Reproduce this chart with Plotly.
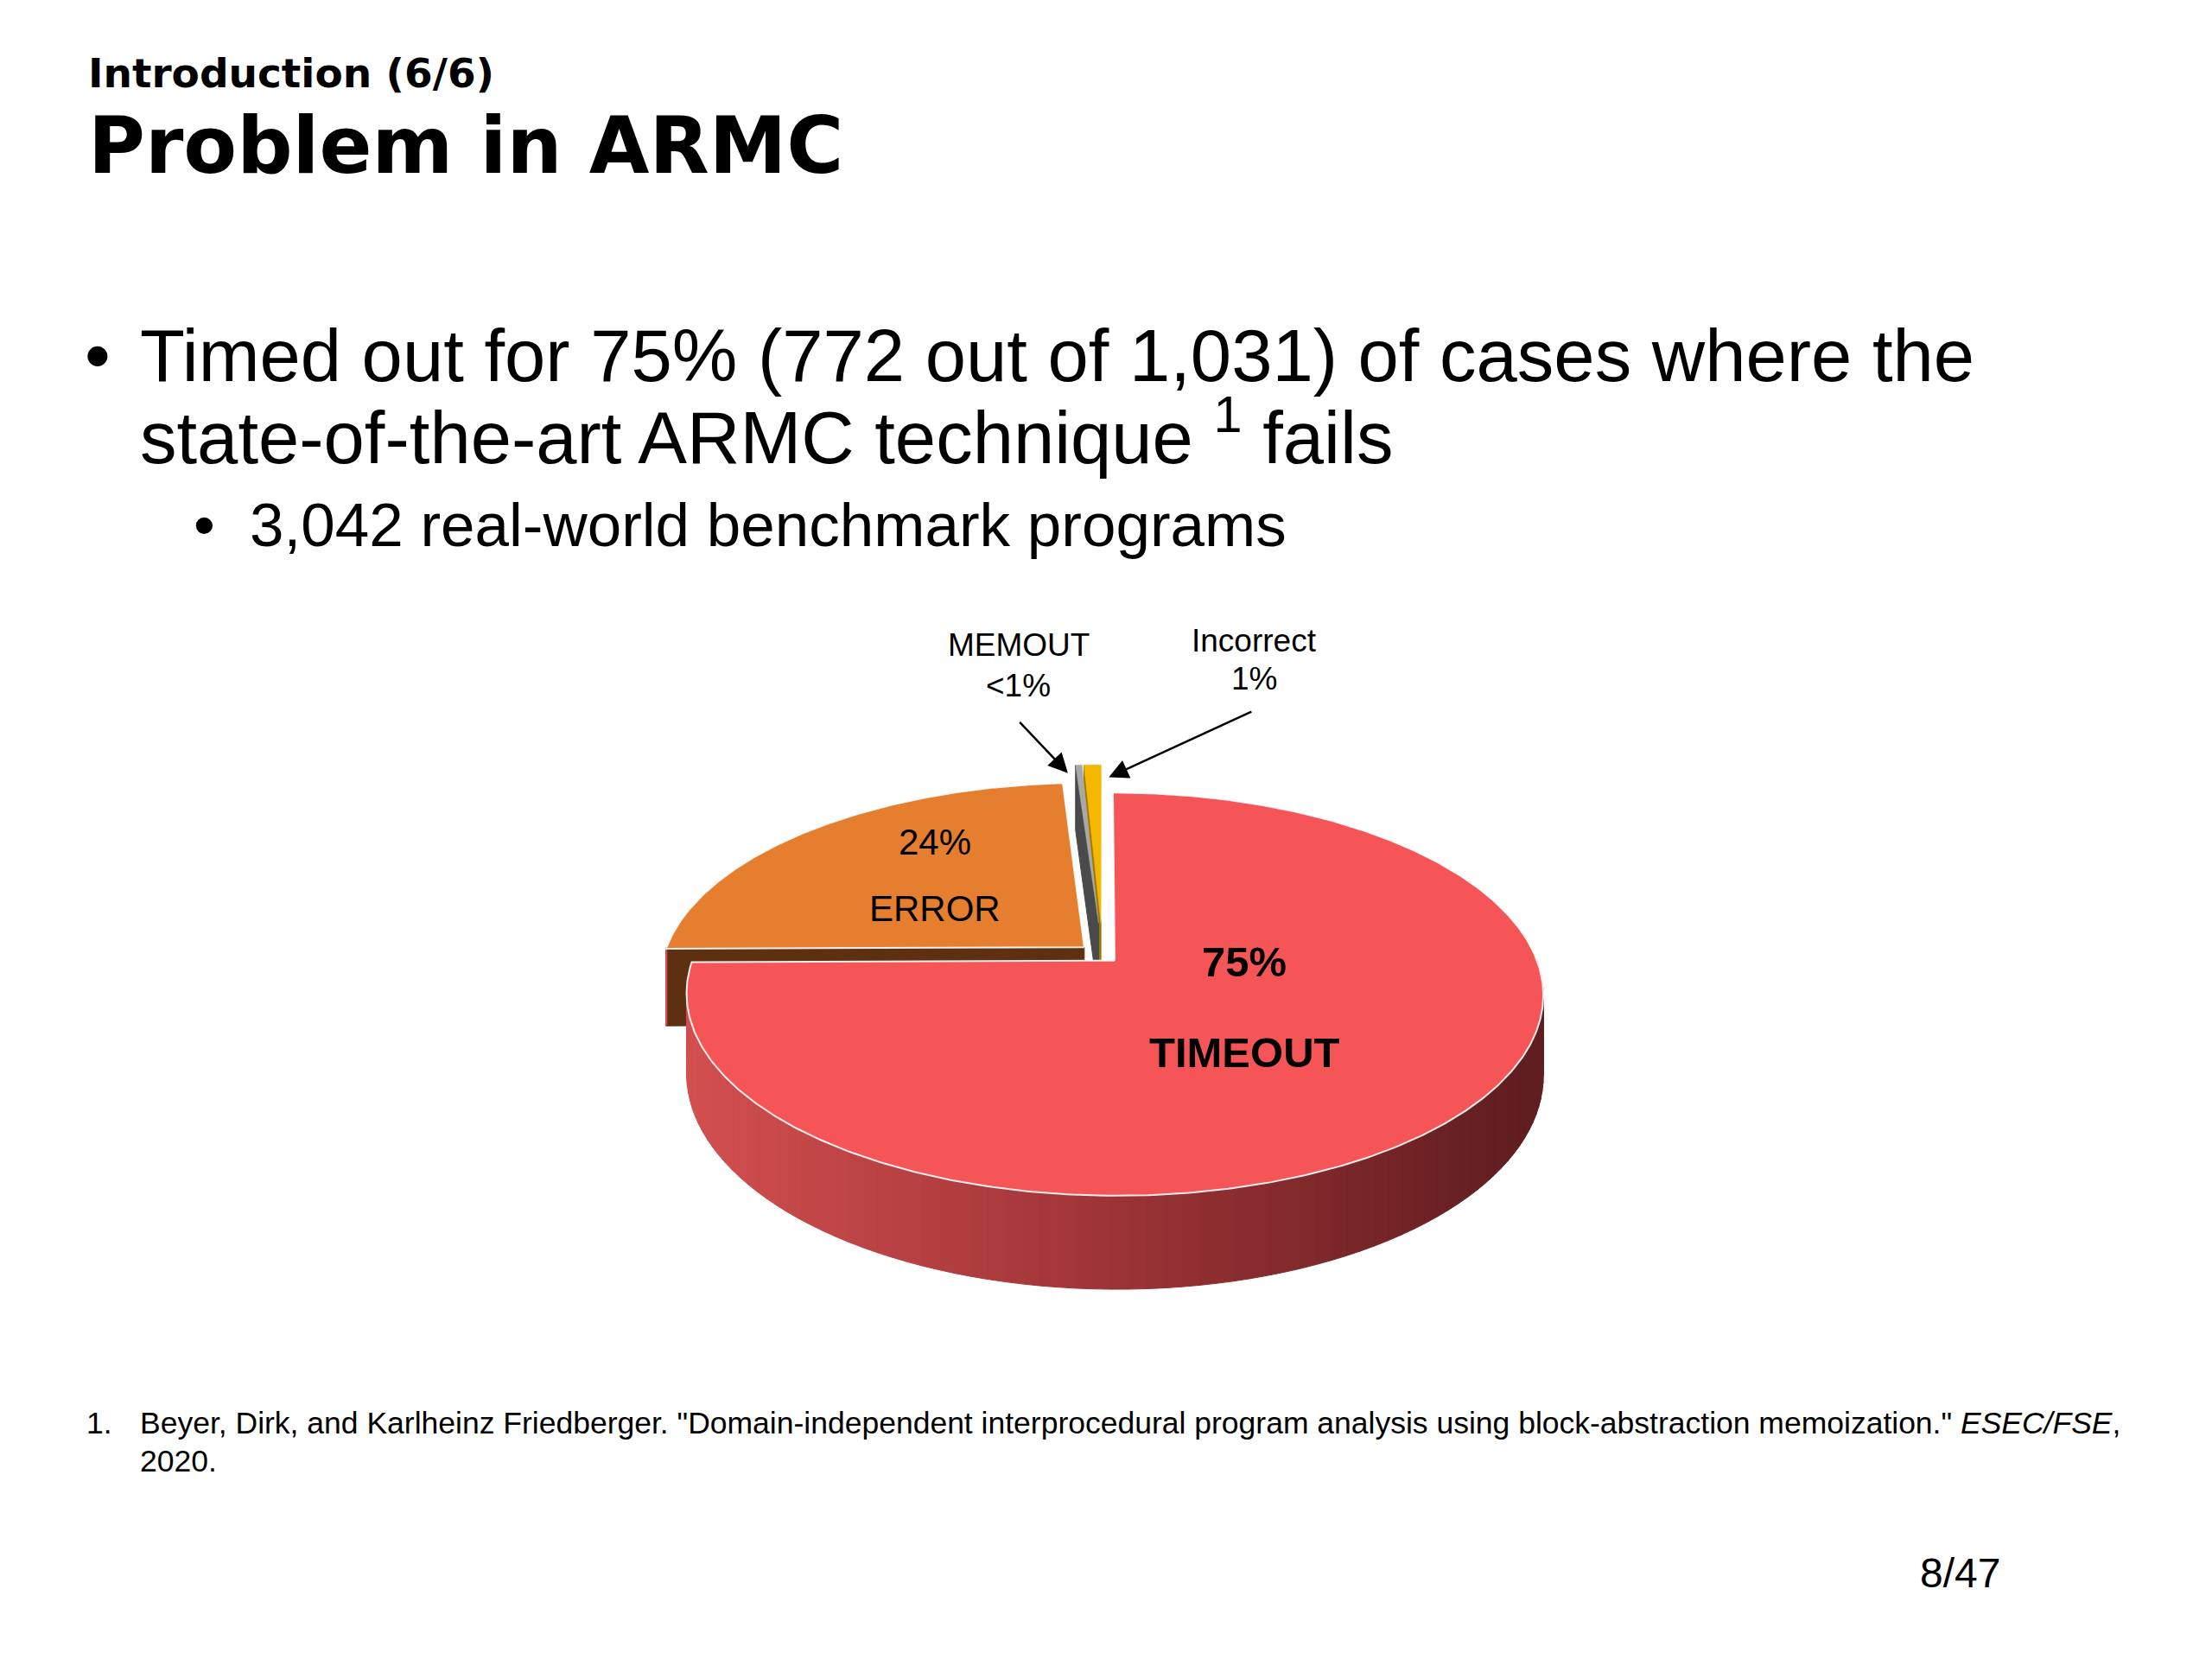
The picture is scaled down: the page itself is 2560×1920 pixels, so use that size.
import numpy as np
import plotly.graph_objects as go

# slide text
header = 'Introduction (6/6)'
title = 'Problem in ARMC'
bullet_lines = ['Timed out for 75% (772 out of 1,031) of cases where the',
                'state-of-the-art ARMC technique <sup>1</sup> fails']
sub_bullet = '3,042 real-world benchmark programs'
footnote_lines = ['Beyer, Dirk, and Karlheinz Friedberger. "Domain-independent interprocedural '
                  'program analysis using block-abstraction memoization." <i>ESEC/FSE</i>,',
                  '2020.']
page_no = '8/47'

# pie data, clockwise from 12 o'clock
categories = ['TIMEOUT', 'ERROR', 'MEMOUT', 'Incorrect']
counts = [772, 248, 3, 8]
pct_labels = ['75%', '24%', '&lt;1%', '1%']

top_colors = ['#f65558', '#e67e30', '#a8a8a8', '#f5b800']
cut_colors = ['#8a2a2c', '#5c3010', '#4a4a4a', '#a07800']
explode = [0.04, 0.06, 0.17, 0.17]

# slide frame (reference pixels); page body margin is 8px -> offset
W, H = 1568, 1176
OFF = 8 * W / 2560
# pie geometry: centre, radii, perspective, thickness
CX, CY = 781.6, 677
RX, RY = 298, 137.6
K = 0.166
DEPTH = 55


def proj(u, s, h=0.0):
    w = 1.0 / (1.0 - K * s)
    return CX + RX * u * w, CY + (RY * s + h) * w


def wall_color(x):
    t = (x - (CX - RX)) / (2 * RX)
    t = min(max(t, 0), 1)
    stops = [(0.0, (212, 80, 80)), (0.5, (158, 52, 55)), (1.0, (96, 30, 32))]
    for (t0, c0), (t1, c1) in zip(stops[:-1], stops[1:]):
        if t <= t1:
            f = (t - t0) / (t1 - t0)
            c = [int(a + (b - a) * f) for a, b in zip(c0, c1)]
            return 'rgb(%d,%d,%d)' % tuple(c)
    return 'rgb(%d,%d,%d)' % stops[-1][1]


def poly(fig, xs, ys, color, line_color=None, line_width=1):
    fig.add_trace(go.Scatter(
        x=list(xs) + [xs[0]], y=list(ys) + [ys[0]],
        mode='lines', fill='toself', fillcolor=color,
        line=dict(color=line_color or color, width=line_width),
        hoverinfo='skip', showlegend=False
    ))


fig = go.Figure()

total = sum(counts)
cum = np.cumsum([0] + counts)
slices = []
for i in range(len(counts)):
    t0 = 2 * np.pi * cum[i] / total
    t1 = 2 * np.pi * cum[i + 1] / total
    tm = (t0 + t1) / 2
    slices.append((i, t0, t1, tm))

# back slices first
slices.sort(key=lambda s: -np.cos(s[3]))

for i, t0, t1, tm in slices:
    du = explode[i] * np.sin(tm)
    ds = -explode[i] * np.cos(tm)

    # cut faces
    for t, visible in [(t0, np.sin(t0) < -1e-9), (t1, np.sin(t1) > 1e-9)]:
        if not visible:
            continue
        u, s = np.sin(t) + du, -np.cos(t) + ds
        p1 = proj(du, ds)
        p2 = proj(u, s)
        p3 = proj(u, s, DEPTH)
        p4 = proj(du, ds, DEPTH)
        poly(fig, [p1[0], p2[0], p3[0], p4[0]], [p1[1], p2[1], p3[1], p4[1]], cut_colors[i])

    # outer wall, front half only
    a, b = max(t0, np.pi / 2), min(t1, 3 * np.pi / 2)
    if b > a:
        edges = np.linspace(a, b, 90)
        for e0, e1 in zip(edges[:-1], edges[1:]):
            tt = np.linspace(e0, e1, 4)
            u, s = np.sin(tt) + du, -np.cos(tt) + ds
            xt, yt = proj(u, s)
            xb, yb = proj(u, s, DEPTH)
            xs = np.concatenate([xt, xb[::-1]])
            ys = np.concatenate([yt, yb[::-1]])
            poly(fig, xs, ys, wall_color(xs.mean()))

    # top face
    tt = np.linspace(t0, t1, max(int((t1 - t0) / 0.01), 3))
    xa, ya = proj(np.sin(tt) + du, -np.cos(tt) + ds)
    vx, vy = proj(du, ds)
    xs = np.concatenate([[vx], xa])
    ys = np.concatenate([[vy], ya])
    if counts[i] / total > 0.05:
        poly(fig, xs, ys, top_colors[i], 'rgba(255,255,255,0.9)', 2)
    else:
        poly(fig, xs, ys, top_colors[i], top_colors[i], 0.5)

BODY = 'Liberation Sans, Arial, sans-serif'
HEAD = 'DejaVu Sans, Arial Black, sans-serif'


def text(x, y, s, size, family=BODY, bold=False, xanchor='left'):
    fig.add_annotation(
        x=x, y=y, xref='x', yref='y', text=s, showarrow=False,
        xanchor=xanchor, yanchor='middle',
        font=dict(family=family, size=size, color='black',
                  weight='bold' if bold else 'normal')
    )


# headings
text(61, 52, header, 47, HEAD, True)
text(61, 103, title, 90, HEAD, True)

# bullets
text(59, 252, '•', 85)
text(98, 252, bullet_lines[0], 85)
text(98, 306, bullet_lines[1], 85)
text(136, 372, '•', 71)
text(176, 372, sub_bullet, 71)

# pie labels
text(663, 597, pct_labels[1], 42, xanchor='center')
text(663, 644, categories[1], 42, xanchor='center')
text(882, 682, pct_labels[0], 49, bold=True, xanchor='center')
text(882, 746, categories[0], 49, bold=True, xanchor='center')
text(722, 457, categories[2], 37, xanchor='center')
text(722, 486, pct_labels[2], 37, xanchor='center')
text(889, 454, categories[3], 37, xanchor='center')
text(889, 481, pct_labels[3], 37, xanchor='center')

# leader arrows
for (hx, hy), (tx, ty) in [((757, 548), (722, 511)), ((786, 551), (888, 504))]:
    fig.add_annotation(
        x=hx, y=hy, ax=tx, ay=ty, xref='x', yref='y', axref='x', ayref='y',
        text='', showarrow=True, arrowhead=2, arrowsize=1.8,
        arrowwidth=2.5, arrowcolor='black'
    )

# footnote and page number
text(60, 1009, '1.', 35.5)
text(98, 1009, footnote_lines[0], 35.5)
text(98, 1036, footnote_lines[1], 35.5)
text(1419, 1115, page_no, 48, xanchor='right')

fig.update_layout(
    width=2560, height=1920,
    margin=dict(l=0, r=0, t=0, b=0),
    paper_bgcolor='white', plot_bgcolor='white',
    showlegend=False,
    xaxis=dict(range=[OFF, W + OFF], visible=False, fixedrange=True),
    yaxis=dict(range=[H + OFF, OFF], visible=False, fixedrange=True),
)

fig.write_html('out.html')
